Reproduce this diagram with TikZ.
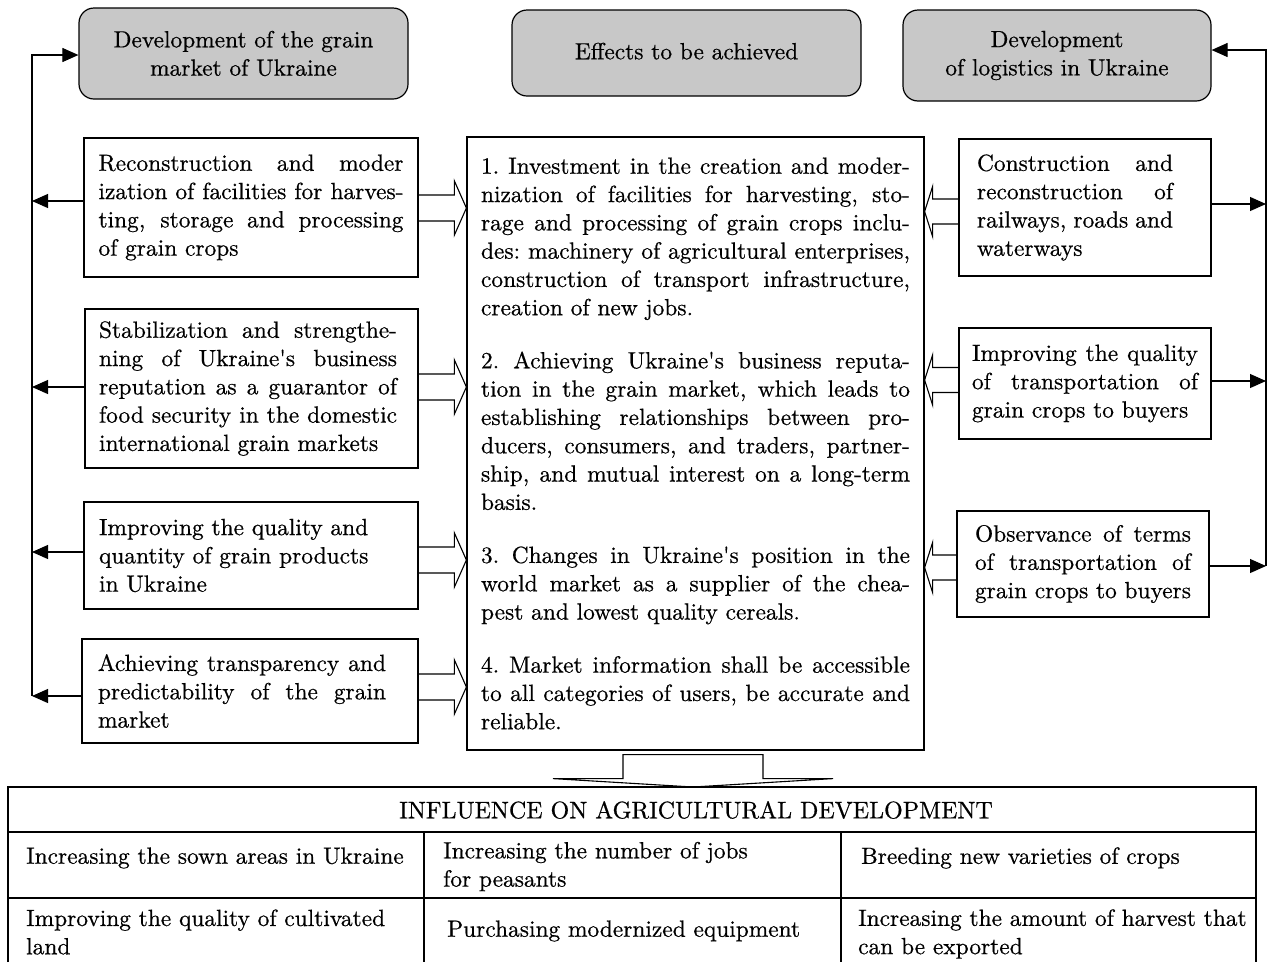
\documentclass[tikz,border=0pt]{standalone}
\usepackage{fontspec}
\setmainfont{lmroman10-regular}[Extension=.otf, FakeBold=0.6]
\usetikzlibrary{arrows.meta,calc}
\definecolor{hd}{RGB}{200,200,200}
\newcommand\jl[2][\hsize]{\hbox to #1{\spaceskip=.333em plus 1fil minus .12em\xspaceskip=\spaceskip #2}}
\newcommand\nl[1]{\hbox{\spaceskip=.333em\xspaceskip=\spaceskip #1}}
\newcommand\ap{\textquotesingle}
\newcommand\holR[3]{%
 \coordinate (h0) at ($(#1.east)+(0,#3)$);
 \coordinate (h1) at (h0 -| #2.west);
 \draw[hol] ($(h0)+(0,-13)$) -- ($(h1)+(-12,-13)$) -- ($(h1)+(-12,-27)$) -- (h1) -- ($(h1)+(-12,27)$) -- ($(h1)+(-12,13)$) -- ($(h0)+(0,13)$);}
\newcommand\holL[3]{%
 \coordinate (h0) at ($(#1.west)+(0,#3)$);
 \coordinate (h1) at (h0 -| #2.east);
 \draw[hol] ($(h0)+(0,-12.5)$) -- ($(h1)+(8,-12.5)$) -- ($(h1)+(8,-25)$) -- (h1) -- ($(h1)+(8,25)$) -- ($(h1)+(8,12.5)$) -- ($(h0)+(0,12.5)$);}
\begin{document}
\begin{tikzpicture}[x=1pt,y=-1pt,
  font=\fontsize{23.4}{28.3}\selectfont,
  box/.style={draw, line width=1.2pt, inner sep=0pt},
  head/.style={draw, line width=1.2pt, fill=hd, rounded corners=15pt, align=center, inner sep=0pt},
  arr/.style={line width=1.1pt, -{Triangle[length=16pt,width=14pt]}},
  hol/.style={line width=1.1pt, line join=miter},
  tab/.style={line width=1.2pt},
  cell/.style={anchor=west, align=left, inner sep=0pt}]
\useasboundingbox (0,0) rectangle (1269,962);

% header boxes
\node[head, minimum width=329pt, minimum height=91pt] (TL) at (243.5,53.5) {Development of the grain\\market of Ukraine};
\node[head, minimum width=349pt, minimum height=86pt] (TM) at (686.5,53) {\raisebox{4pt}{Effects to be achieved}};
\node[head, minimum width=308pt, minimum height=91pt] (TR) at (1057,55.5) {Development\\of logistics in Ukraine};

% left boxes
\node[box, minimum width=334pt, minimum height=139pt, text width=305pt] (B1) at (251,207.5) {%
\jl{Reconstruction and moder}
\jl{ization of facilities for harves-}
\jl{ting, storage and processing}
\nl{of grain crops}};
\node[box, minimum width=333pt, minimum height=159pt, text width=305pt] (B2) at (251.5,388.5) {%
\jl[298pt]{Stabilization and strengthe-}
\jl[298pt]{ning of Ukraine\ap s business}
\jl[298pt]{reputation as a guarantor of}
\jl[298pt]{food security in the domestic}
\nl{international grain markets}};
\node[box, minimum width=334pt, minimum height=107pt, text width=304pt] (B3) at (251,555.5) {%
\nl{Improving the quality and}
\nl{quantity of grain products}
\nl{in Ukraine}};
\node[box, minimum width=336pt, minimum height=104pt, text width=304pt] (B4) at (250,691) {%
\jl[288pt]{Achieving transparency and}
\jl[288pt]{predictability of the grain}
\nl{market}};

% centre box
\node[box, minimum width=457pt, minimum height=613pt, text width=429pt] (C) at (695.5,443.5) {%
\jl{1. Investment in the creation and moder-}
\jl{nization of facilities for harvesting, sto-}
\jl{rage and processing of grain crops inclu-}
\jl{des: machinery of agricultural enterprises,}
\jl{construction of transport infrastructure,}
\nl{creation of new jobs.}
\vskip 24.8pt
\jl{2. Achieving Ukraine\ap s business reputa-}
\jl{tion in the grain market, which leads to}
\jl{establishing relationships between pro-}
\jl{ducers, consumers, and traders, partner-}
\jl{ship, and mutual interest on a long-term}
\nl{basis.}
\vskip 24.8pt
\jl{3. Changes in Ukraine\ap s position in the}
\jl{world market as a supplier of the chea-}
\nl{pest and lowest quality cereals.}
\vskip 24.8pt
\jl{4. Market information shall be accessible}
\jl{to all categories of users, be accurate and}
\nl{reliable.}};

% right boxes
\node[box, minimum width=252pt, minimum height=137pt, text width=216pt] (R1) at (1085,207.5) {%
\jl[196pt]{Construction and}
\jl[196pt]{reconstruction of}
\jl[196pt]{railways, roads and}
\nl{waterways}};
\node[box, minimum width=252pt, minimum height=111pt, text width=226pt] (R2) at (1085,383.5) {%
\jl{Improving the quality}
\jl{of transportation of}
\nl{grain crops to buyers}};
\node[box, minimum width=252pt, minimum height=106pt, text width=216pt] (R3) at (1083,564) {%
\jl{Observance of terms}
\jl{of transportation of}
\jl{grain crops to buyers}};

% left bus
\coordinate (lb) at (32,55);
\coordinate (a1) at ($(B1.west)+(0,-6.5)$);
\coordinate (a2) at ($(B2.west)+(0,-1.5)$);
\coordinate (a3) at ($(B3.west)+(0,-3.5)$);
\coordinate (a4) at ($(B4.west)+(0,5)$);
\draw[arr] (a1) -- (a1 -| lb);
\draw[arr] (a2) -- (a2 -| lb);
\draw[arr] (a3) -- (a3 -| lb);
\draw[arr] (a4) -- (a4 -| lb);
\draw[arr] (a4 -| lb) -- (lb) -- (lb -| TL.west);

% right bus
\coordinate (rb) at (1266,50);
\coordinate (c1) at ($(R1.east)+(0,-3.5)$);
\coordinate (c2) at ($(R2.east)+(0,-2.5)$);
\coordinate (c3) at ($(R3.east)+(0,2)$);
\draw[arr] (c1) -- (c1 -| rb);
\draw[arr] (c2) -- (c2 -| rb);
\draw[arr] (c3) -- (c3 -| rb);
\draw[arr] (c3 -| rb) -- (rb) -- (rb -| TR.east);

% hollow arrows
\holR{B1}{C}{0.5}
\holR{B2}{C}{-1.5}
\holR{B3}{C}{4.5}
\holR{B4}{C}{-4}
\holL{R1}{C}{4}
\holL{R2}{C}{-3.5}
\holL{R3}{C}{3.5}

% table
\coordinate (tt) at (8,787);
\draw[tab] (8,962) -- (tt) -- (1256,787) -- (1256,962);
\draw[tab] (8,832) -- (1256,832);
\draw[tab] (8,898) -- (1256,898);
\draw[tab] (424,832) -- (424,962);
\draw[tab] (841,832) -- (841,962);

% big arrow down
\coordinate (d0) at ($(C.south)+(-2.5,0)$);
\draw[hol] ($(d0)+(-70,4)$) -- ($(d0)+(70,4)$) -- ($(d0)+(70,28)$) -- ($(d0)+(140,28)$) -- (d0 |- tt) -- ($(d0)+(-140,28)$) -- ($(d0)+(-70,28)$) -- cycle;

\node (hdr) at (696,810) {\fontsize{24}{28}\selectfont INFLUENCE ON AGRICULTURAL DEVELOPMENT};
\node[cell] (t11) at (26,858) {Increasing the sown areas in Ukraine};
\node[cell] (t12) at (443,866.5) {Increasing the number of jobs\\for peasants};
\node[cell] (t13) at (861,858) {Breeding new varieties of crops};
\node[cell] (t21) at (26,932) {Improving the quality of cultivated\\land};
\node[cell] (t22) at (447,931) {Purchasing modernized equipment};
\node[cell] (t23) at (858,934) {Increasing the amount of harvest that\\can be exported};
\end{tikzpicture}
\end{document}
